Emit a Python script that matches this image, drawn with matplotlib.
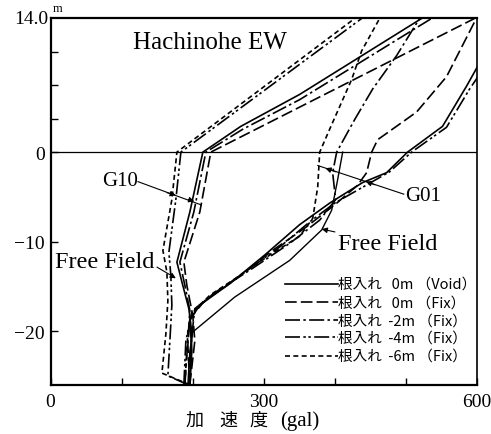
import numpy as np
import matplotlib
matplotlib.use("Agg")
import matplotlib.pyplot as plt

# Peak acceleration (gal) against height/depth (m); 0 m = ground surface.
# Above ground: building, below ground: pile / soil.

# --- G10 ---
g10_void_acc = [196, 198.8, 194.6, 184.8, 177.8, 196, 214.3, 267.7, 350.6, 522]
g10_void_dep = [-26, -20.2, -17.5, -14.5, -12.3, -6.7, 0, 2.7, 6.05, 14]

g10_fix0_acc = [196, 203, 200.2, 191.8, 187.6, 210, 225.5, 596.5]
g10_fix0_dep = [-26, -21.1, -18.3, -14.9, -12.3, -6.7, 0, 14]

g10_fix2_acc = [189, 193.2, 196, 189, 182, 201.6, 218.5, 270.5, 350.6, 536]
g10_fix2_dep = [-26, -21.1, -17.7, -14.9, -12.3, -6.7, 0, 2.4, 5.5, 14]

g10_fix4_acc = [193.2, 165.1, 167.9, 170.7, 169.3, 166.5, 176.3, 183.4, 437.7]
g10_fix4_dep = [-26, -25.0, -21.1, -17.1, -13.8, -11.2, -5.3, 0, 14]

g10_fix6_acc = [196, 156.7, 162.3, 165.1, 163.7, 158.1, 170.7, 177.8, 427.9]
g10_fix6_dep = [-26, -24.7, -20.3, -16.6, -13.4, -11.0, -5.3, 0, 14]

# --- G01 ---
g01_void_acc = [196, 198.8, 196, 210, 252.2, 301.4, 350.6, 392.7, 439.1, 472.8,
                502.3, 551.5, 585.2, 606.3]
g01_void_dep = [-26, -22.2, -18.8, -17.1, -14.7, -11.5, -8.1, -5.7, -3.4, -2.3,
                0, 2.7, 6.9, 9.7]

g01_fix0_acc = [196, 193.2, 196, 217.1, 259.2, 308.4, 357.6, 399.7, 432, 444.7,
                451.8, 460.2, 515, 557.1, 599]
g01_fix0_dep = [-26, -21.6, -18.6, -16.6, -14.3, -11.2, -8.5, -5.9, -3.7, -2.3,
                0, 1.3, 4.2, 7.9, 14]

g01_fix2_acc = [194.6, 198.8, 203, 231.1, 280.3, 336.5, 378.7, 401.1, 396.9,
                402.6, 427.8, 453.1, 486.8, 519.2]
g01_fix2_dep = [-26, -20.5, -17.5, -15.7, -13.2, -10.2, -7.6, -5.3, -2.3,
                0, 3.4, 6.6, 10.1, 14]

g01_fix4_acc = [187.6, 190.4, 198.8, 224.1, 273.3, 322.5, 364.6, 399.7, 441.9,
                477, 508, 557.1, 589.5, 606]
g01_fix4_dep = [-26, -21.1, -17.9, -16.2, -13.4, -10.6, -7.8, -5.7, -3.8,
                -2.2, 0, 2.6, 6.6, 8.4]

g01_fix6_acc = [189, 193.2, 200.2, 224.1, 266.3, 308.4, 350.6, 368.9, 373.1,
                375.9, 378.7, 392.7, 423.6, 437.7, 463]
g01_fix6_dep = [-26, -20.2, -17.9, -16.0, -13.8, -11.5, -9.4, -7.4, -5.3,
                -3.9, 0, 2.4, 7.6, 10.6, 14]

# --- free field (soil only, up to the surface) ---
ff_acc = [193.2, 196, 200.2, 259.2, 336.5, 381.5, 395.5, 403.9, 411]
ff_dep = [-26, -22.2, -20.1, -16.2, -12.1, -8.7, -6.5, -3.1, 0]

case_labels = ["根入れ   0m （Void）", "根入れ   0m （Fix）", "根入れ  -2m （Fix）",
               "根入れ  -4m （Fix）", "根入れ  -6m （Fix）"]

x_major = [0, 300, 600]
x_minor = [100, 200, 400, 500]
y_major = [0, -10, -20]
y_major_labels = ["0", "\u221210", "\u221220"]
y_minor = [3.5, 7.0, 10.5]

# building part drawn a little taller than the soil part
K_UP = 1.067


def fwd(y):
    y = np.asarray(y, dtype=float)
    return np.where(y > 0, y * K_UP, y)


def inv(v):
    v = np.asarray(v, dtype=float)
    return np.where(v > 0, v / K_UP, v)


styles = ['-', (0, (7, 2.5)), (0, (9, 2, 1.5, 2)),
          (0, (9, 2, 1.5, 1.5, 1.5, 2)), (0, (3, 2))]

serif = 'Liberation Serif'
cjk = ['Noto Sans CJK JP', 'DejaVu Sans']

fig = plt.figure(figsize=(4.91, 4.35), dpi=100)
ax = fig.add_axes([0.1029, 0.1133, 0.8686, 0.8419])
ax.set_yscale('function', functions=(fwd, inv))
ax.set_xlim(0, 600)
ax.set_ylim(-26, 14)

g10 = [(g10_void_acc, g10_void_dep), (g10_fix0_acc, g10_fix0_dep),
       (g10_fix2_acc, g10_fix2_dep), (g10_fix4_acc, g10_fix4_dep),
       (g10_fix6_acc, g10_fix6_dep)]
g01 = [(g01_void_acc, g01_void_dep), (g01_fix0_acc, g01_fix0_dep),
       (g01_fix2_acc, g01_fix2_dep), (g01_fix4_acc, g01_fix4_dep),
       (g01_fix6_acc, g01_fix6_dep)]

for (a, d), ls in zip(g10, styles):
    ax.plot(a, d, color='k', lw=1.2, ls=ls)
for (a, d), ls in zip(g01, styles):
    ax.plot(a, d, color='k', lw=1.2, ls=ls)
ax.plot(ff_acc, ff_dep, color='k', lw=1.0)

ax.axhline(0, color='k', lw=0.9)

# legend drawn by hand inside the lower right corner
leg_y = [-14.7, -16.8, -18.8, -20.7, -22.8]
for yy, ls, lab in zip(leg_y, styles, case_labels):
    ax.plot([329.5, 404], [yy, yy], color='k', lw=1.2, ls=ls)
    ax.text(405, yy, lab, fontsize=10.5, family=cjk, va='center', ha='left')

ax.text(116, 11.5, "Hachinohe EW", fontsize=18, family=serif, va='center')

arrow_kw = dict(arrowstyle='-|>', color='k', lw=0.8, mutation_scale=8)

# G10 marker
ax.text(72, -3.2, "G10", fontsize=15, family=serif, va='center')
ax.plot([123, 212], [-3.3, -5.9], color='k', lw=0.8)
ax.annotate("", xy=(180, -4.9), xytext=(160, -4.45), arrowprops=arrow_kw)
ax.annotate("", xy=(206, -5.6), xytext=(190, -5.2), arrowprops=arrow_kw)

# G01 marker
ax.text(499, -4.9, "G01", fontsize=15, family=serif, va='center')
ax.plot([497, 376], [-4.7, -1.5], color='k', lw=0.8)
ax.annotate("", xy=(383, -1.7), xytext=(405, -2.3), arrowprops=arrow_kw)
ax.annotate("", xy=(440, -3.2), xytext=(460, -3.75), arrowprops=arrow_kw)

# free field labels
ax.annotate("Free Field", xy=(381.5, -8.6), xytext=(404, -10.2),
            fontsize=17.5, family=serif, va='center', ha='left',
            arrowprops=dict(arrow_kw, shrinkA=0, shrinkB=0))
ax.annotate("Free Field", xy=(176.3, -14.1), xytext=(6, -12.2),
            fontsize=17.5, family=serif, va='center', ha='left',
            arrowprops=dict(arrow_kw, shrinkA=0, shrinkB=0,
                            relpos=(1.0, 0.3)))

# axes frame and ticks
for side in ['left', 'bottom', 'top']:
    ax.spines[side].set_linewidth(1.6)
ax.spines['right'].set_linewidth(1.2)

ax.set_xticks(x_major)
ax.set_xticks(x_minor, minor=True)
ax.set_xticklabels([str(v) for v in x_major], family=serif, fontsize=14)
ax.set_yticks(y_major)
ax.set_yticklabels(y_major_labels, family=serif, fontsize=14)
ax.set_yticks(y_minor, minor=True)
ax.tick_params(which='both', direction='in', length=5, width=1.0)
ax.tick_params(axis='x', pad=6)
ax.tick_params(axis='y', pad=4)

# top label of the height axis
ax.text(-0.005, 1.0, "14.0", transform=ax.transAxes, fontsize=14,
        family=serif, ha='right', va='center')
ax.text(0.004, 1.012, "m", transform=ax.transAxes, fontsize=9,
        family=serif, ha='left', va='bottom')

# x axis title, characters spaced out
for xc, s in zip([195, 228, 258], ["加", "速", "度"]):
    fig.text(xc / 491, 0.032, s, fontsize=13, family=cjk,
             ha='center', va='center')
fig.text(300 / 491, 0.032, "(gal)", fontsize=15, family=serif,
         ha='center', va='center')

fig.savefig("out.png", dpi=100)
